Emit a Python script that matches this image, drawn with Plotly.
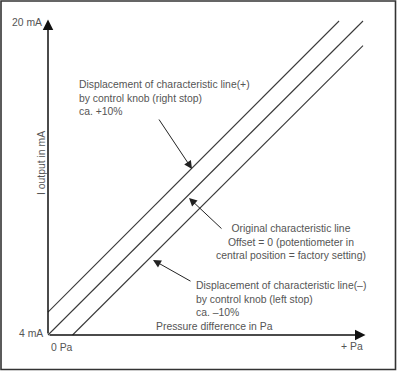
import plotly.graph_objects as go

# ---- data ----
# x: pressure difference in % of full scale, y: output current in mA
line_names = ["Displacement (+)", "Original characteristic line", "Displacement (-)"]
line_x = [[0, 92.4], [0, 100], [7.8, 100]]
line_y = [[5.17, 20.0], [4.0, 20.0], [4.0, 18.75]]

y_ticks = [4, 20]
y_tick_labels = ["4 mA", "20 mA"]
x_ticks = [0, 100]
x_tick_labels = ["0 Pa", "+ Pa"]

W, H = 397, 371
# pixel -> data mapping (x: px 48 -> 0, px 363 -> 100 ; y: px 335 -> 4, px 21 -> 20)
XPX0, XPX1 = 48.0, 363.0
YPX0, YPX1 = 335.0, 21.0
def dx(px):
    return (px - XPX0) / (XPX1 - XPX0) * 100.0
def dy(py):
    return 4.0 + (YPX0 - py) / (YPX0 - YPX1) * 16.0

FONT = "Liberation Sans"
FS = 10.4
TXT = "#555555"

fig = go.Figure()
for nm, xs, ys in zip(line_names, line_x, line_y):
    fig.add_trace(go.Scatter(x=xs, y=ys, mode="lines", name=nm,
                             line=dict(color="#3a3a3a", width=1.1),
                             hoverinfo="skip", showlegend=False))

ann = []
# axes as arrows
ann.append(dict(x=dx(365.5), y=4, ax=0, ay=4, xref="x", yref="y", axref="x", ayref="y",
                text="", showarrow=True, arrowhead=2, arrowsize=1.4, arrowwidth=1.5,
                arrowcolor="#111111"))
ann.append(dict(x=0, y=dy(19.5), ax=0, ay=4, xref="x", yref="y", axref="x", ayref="y",
                text="", showarrow=True, arrowhead=2, arrowsize=1.4, arrowwidth=1.5,
                arrowcolor="#111111"))

# tick labels
ann.append(dict(x=dx(45), y=y_ticks[0], xref="x", yref="y", text=y_tick_labels[0],
                showarrow=False, xanchor="right", yanchor="middle", yshift=2,
                font=dict(family=FONT, size=FS, color=TXT)))
ann.append(dict(x=dx(44), y=y_ticks[1], xref="x", yref="y", text=y_tick_labels[1],
                showarrow=False, xanchor="right", yanchor="middle", yshift=-1,
                font=dict(family=FONT, size=FS, color=TXT)))
ann.append(dict(x=x_ticks[0], y=dy(347), xref="x", yref="y", text=x_tick_labels[0],
                showarrow=False, xanchor="left", yanchor="middle", xshift=1,
                font=dict(family=FONT, size=FS, color=TXT)))
ann.append(dict(x=dx(352), y=dy(346), xref="x", yref="y", text=x_tick_labels[1],
                showarrow=False, xanchor="center", yanchor="middle",
                font=dict(family=FONT, size=FS, color=TXT)))

# axis titles
ann.append(dict(x=dx(41), y=dy(163), xref="x", yref="y", text="I output in mA",
                showarrow=False, textangle=-90, xanchor="center", yanchor="middle",
                font=dict(family=FONT, size=FS, color=TXT)))
ann.append(dict(x=dx(154), y=dy(326), xref="x", yref="y", text="Pressure difference in Pa",
                showarrow=False, xanchor="left", yanchor="middle",
                font=dict(family=FONT, size=FS, color=TXT)))

# explanatory texts
ann.append(dict(x=dx(77), y=dy(77), xref="x", yref="y",
                text="Displacement of characteristic line(+)<br>by control knob (right stop)<br>ca. +10%",
                showarrow=False, xanchor="left", yanchor="top", align="left",
                font=dict(family=FONT, size=FS, color=TXT)))
ann.append(dict(x=dx(291), y=dy(221), xref="x", yref="y",
                text="Original characteristic line<br>Offset = 0 (potentiometer in<br>central position = factory setting)",
                showarrow=False, xanchor="center", yanchor="top", align="center",
                font=dict(family=FONT, size=FS, color=TXT)))
ann.append(dict(x=dx(194), y=dy(278), xref="x", yref="y",
                text="Displacement of characteristic line(\u2013)<br>by control knob (left stop)<br>ca. \u201310%",
                showarrow=False, xanchor="left", yanchor="top", align="left",
                font=dict(family=FONT, size=FS, color=TXT)))

# pointer arrows
for (tx, ty, hx, hy) in [(158, 118, 192, 169), (223, 230, 189, 198), (192, 282, 153, 260)]:
    ann.append(dict(x=dx(hx), y=dy(hy), ax=dx(tx), ay=dy(ty), xref="x", yref="y",
                    axref="x", ayref="y", text="", showarrow=True, arrowhead=2,
                    arrowsize=1.6, arrowwidth=1.0, arrowcolor="#222222"))

fig.update_layout(
    width=W, height=H,
    margin=dict(l=0, r=0, t=0, b=0),
    paper_bgcolor="white", plot_bgcolor="white",
    xaxis=dict(range=[dx(0), dx(W)], visible=False, fixedrange=True),
    yaxis=dict(range=[dy(H), dy(0)], visible=False, fixedrange=True),
    annotations=ann,
    shapes=[dict(type="rect", xref="paper", yref="paper",
                 x0=1.0 / W, x1=395.5 / W, y0=(H - 369.5) / H, y1=1 - 1.0 / H,
                 line=dict(color="#333333", width=1.6))],
)

fig.write_html("out.html",
               config={"displayModeBar": False, "staticPlot": True},
               post_script="document.body.style.margin='0px';"
                           "document.documentElement.style.overflow='hidden';")
